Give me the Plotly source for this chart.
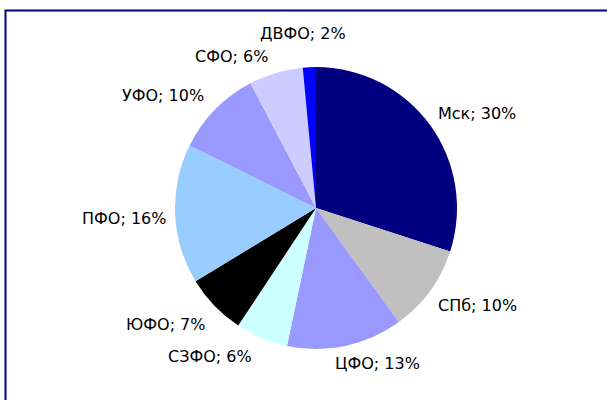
import plotly.graph_objects as go
import math

W, H = 607, 400

labels = ["Мск", "СПб", "ЦФО", "СЗФО", "ЮФО", "ПФО", "УФО", "СФО", "ДВФО"]
values = [30.0, 10.0, 13.3, 6.0, 7.0, 16.0, 10.0, 6.2, 1.5]
colors = ["#000080", "#C0C0C0", "#9999FF", "#CCFFFF", "#000000",
          "#99CCFF", "#9999FF", "#CCCCFF", "#0000FF"]
# label centre positions in pixels (x, y from top)
label_pos = [(477, 114), (477, 305), (377, 363), (210, 356), (166, 324),
             (124, 218), (163, 95), (231, 56), (303, 33)]

cx, cy, r = 316, 208, 141

fig = go.Figure(go.Pie(
    labels=labels, values=values, sort=False, direction="clockwise", rotation=0,
    marker=dict(colors=colors, line=dict(width=0)),
    textinfo="none", hoverinfo="label+percent", showlegend=False,
    domain=dict(x=[(cx - r) / W, (cx + r) / W], y=[1 - (cy + r) / H, 1 - (cy - r) / H]),
))

total = sum(values)
for lab, v, (px, py) in zip(labels, values, label_pos):
    pct = int(math.floor(v / total * 100 + 0.5 + 1e-9))
    fig.add_annotation(x=px / W, y=1 - py / H, xref="paper", yref="paper",
                       text=f"{lab}; {pct}%", showarrow=False,
                       font=dict(family="DejaVu Sans", size=16, color="#000000"),
                       xanchor="center", yanchor="middle")

fig.add_shape(type="rect", xref="paper", yref="paper",
              x0=5.5 / W, x1=1.05, y0=-0.05, y1=1 - 10.5 / H,
              line=dict(color="#000080", width=2))

fig.update_layout(width=W, height=H, margin=dict(l=0, r=0, t=0, b=0),
                  paper_bgcolor="white", plot_bgcolor="white",
                  font=dict(family="DejaVu Sans"))
fig.write_html("out.html", config={"displayModeBar": False},
               post_script="document.body.style.margin='0';document.body.style.overflow='hidden';")
